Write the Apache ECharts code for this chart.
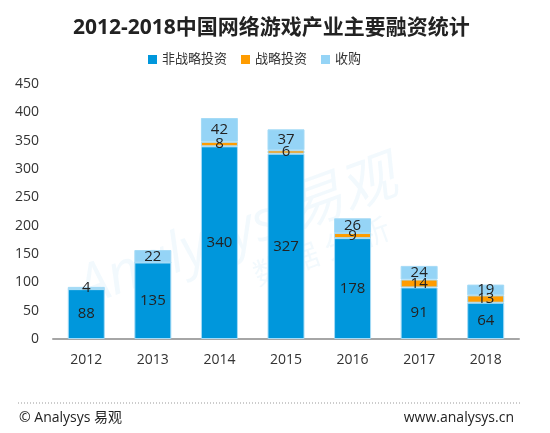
<!DOCTYPE html>
<html>
<head>
<meta charset="utf-8">
<script src="https://cdn.jsdelivr.net/npm/echarts@6/dist/echarts.min.js"></script>
<style>
    html, body { margin: 0; padding: 0; background: #fff; }
    #chart { width: 550px; height: 433px; }
</style>
</head>
<body>
<div id="chart"></div>
<script>
// 数据
const years = ['2012', '2013', '2014', '2015', '2016', '2017', '2018'];
const nonStrategic = [88, 135, 340, 327, 178, 91, 64];
const strategic = [0, 0, 8, 6, 9, 14, 13];
const acquisition = [4, 22, 42, 37, 26, 24, 19];

const FONT = '"Open Sans", "Noto Sans CJK SC", sans-serif';

const chart = echarts.init(document.getElementById('chart'));

function barSeries(name, data, color) {
    return {
        name: name,
        type: 'bar',
        stack: 'total',
        barWidth: 37,
        data: data,
        itemStyle: {
            color: color,
            borderColor: '#a5dbf6',
            borderWidth: 1
        },
        label: {
            show: true,
            position: 'inside',
            color: '#222',
            fontSize: 15,
            fontFamily: FONT,
            formatter: p => (p.value ? p.value : '')
        }
    };
}

chart.setOption({
    animation: false,
    title: {
        text: '2012-2018中国网络游戏产业主要融资统计',
        left: 68,
        top: 13,
        textStyle: {
            fontSize: 21,
            fontWeight: 'bold',
            color: '#222',
            fontFamily: FONT
        }
    },
    legend: {
        top: 48,
        left: 143,
        itemWidth: 9,
        itemHeight: 9,
        itemGap: 14,
        textStyle: { fontSize: 13, color: '#333', fontFamily: FONT },
        data: [
            { name: '非战略投资', icon: 'rect', itemStyle: { borderWidth: 0 } },
            { name: '战略投资', icon: 'rect', itemStyle: { borderWidth: 0 } },
            { name: '收购', icon: 'rect', itemStyle: { borderWidth: 0 } }
        ]
    },
    grid: {
        left: 53,
        right: 31,
        top: 84,
        bottom: 94
    },
    xAxis: {
        type: 'category',
        data: years,
        axisLine: { lineStyle: { color: '#a6a6a6', width: 2 } },
        axisTick: { show: false },
        axisLabel: {
            fontSize: 14,
            color: '#333',
            margin: 14,
            fontFamily: FONT
        }
    },
    yAxis: {
        type: 'value',
        min: 0,
        max: 450,
        interval: 50,
        splitLine: { show: false },
        axisLine: { show: false },
        axisTick: { show: false },
        axisLabel: {
            fontSize: 14,
            color: '#333',
            margin: 14,
            fontFamily: FONT
        }
    },
    graphic: [
        {
            type: 'text',
            left: 70,
            top: 150,
            rotation: Math.PI / 9,
            silent: true,
            style: {
                text: 'Analysys 易观',
                fontSize: 56,
                fontStyle: 'italic',
                fontFamily: FONT,
                fill: 'rgba(30,150,220,0.06)'
            }
        },
        {
            type: 'text',
            left: 250,
            top: 215,
            rotation: Math.PI / 9,
            silent: true,
            style: {
                text: '数 据 分 析',
                fontSize: 30,
                fontFamily: FONT,
                fill: 'rgba(30,150,220,0.06)'
            }
        },
        {
            type: 'line',
            silent: true,
            shape: { x1: 18, y1: 403, x2: 520, y2: 403 },
            style: { stroke: '#999', lineWidth: 1, lineDash: [1, 2] }
        },
        {
            type: 'text',
            left: 19,
            top: 411,
            silent: true,
            style: {
                text: '© Analysys 易观',
                fontSize: 14,
                fontFamily: FONT,
                fill: '#222'
            }
        },
        {
            type: 'text',
            right: 36,
            top: 411,
            silent: true,
            style: {
                text: 'www.analysys.cn',
                fontSize: 14,
                fontFamily: FONT,
                fill: '#222'
            }
        }
    ],
    series: [
        barSeries('非战略投资', nonStrategic, '#0097dc'),
        barSeries('战略投资', strategic, '#ff9c00'),
        barSeries('收购', acquisition, '#95d4f6')
    ]
});
</script>
</body>
</html>
